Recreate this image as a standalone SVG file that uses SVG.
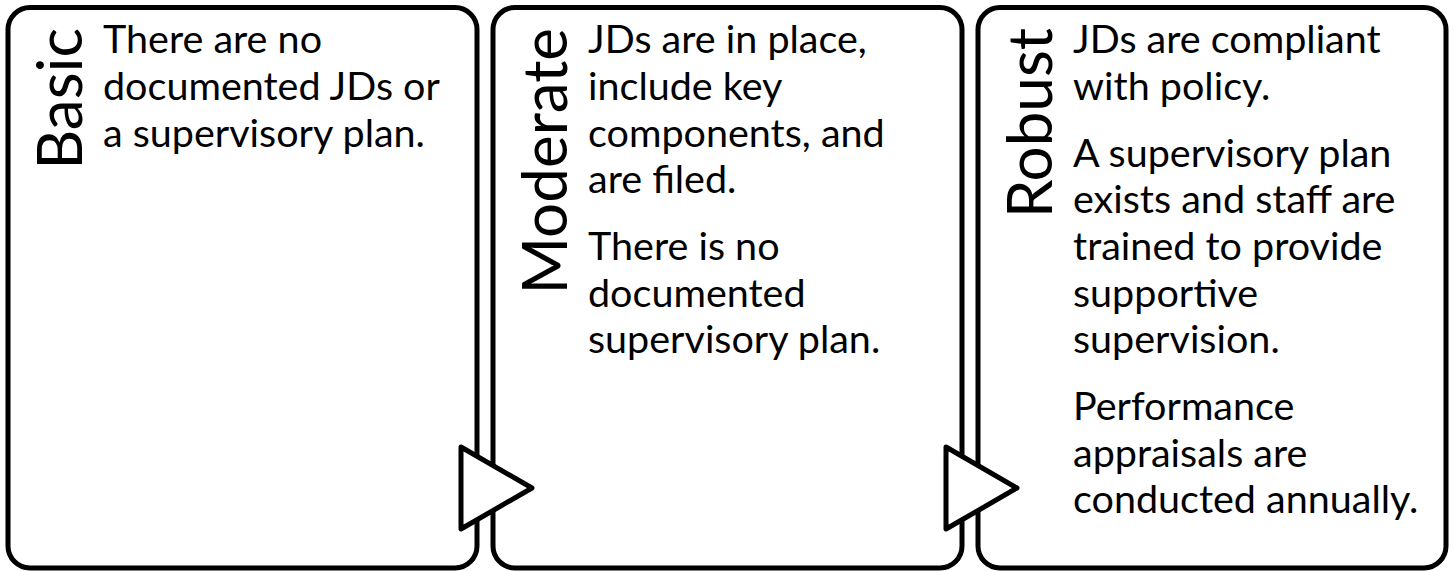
<svg xmlns="http://www.w3.org/2000/svg" width="1454" height="571" viewBox="0 0 1454 571">
<style>
.box{fill:#fff;stroke:#000;stroke-width:5}
.arrow{fill:#fff;stroke:#000;stroke-width:5;stroke-linejoin:round}
.title{font-family:Lato,"Liberation Sans",sans-serif;font-size:62px;fill:#000}
.body{font-family:Lato,"Liberation Sans",sans-serif;font-size:39.5px;fill:#000}
</style>
<rect width="1454" height="571" fill="#fff"/>
<g id="node-basic">
<rect class="box" x="8" y="7.5" width="469" height="560.5" rx="22"/>
<text class="title" transform="translate(82,28) rotate(-90)" text-anchor="end">Basic</text>
<text class="body"><tspan x="103" y="53">There are no</tspan><tspan x="103" y="100">documented JDs or</tspan><tspan x="103" y="147">a supervisory plan.</tspan></text>
</g>
<g id="node-moderate">
<rect class="box" x="493" y="7.5" width="469" height="560.5" rx="22"/>
<text class="title" transform="translate(567,28) rotate(-90)" text-anchor="end">Moderate</text>
<text class="body"><tspan x="588" y="53">JDs are in place,</tspan><tspan x="588" y="100">include key</tspan><tspan x="588" y="147">components, and</tspan><tspan x="588" y="193">are filed.</tspan><tspan x="588" y="260">There is no</tspan><tspan x="588" y="307">documented</tspan><tspan x="588" y="353">supervisory plan.</tspan></text>
</g>
<g id="node-robust">
<rect class="box" x="978" y="7.5" width="468" height="560.5" rx="22"/>
<text class="title" transform="translate(1052,28) rotate(-90)" text-anchor="end">Robust</text>
<text class="body"><tspan x="1073" y="53">JDs are compliant</tspan><tspan x="1073" y="100">with policy.</tspan><tspan x="1073" y="167">A supervisory plan</tspan><tspan x="1073" y="213">exists and staff are</tspan><tspan x="1073" y="260">trained to provide</tspan><tspan x="1073" y="307">supportive</tspan><tspan x="1073" y="353">supervision.</tspan><tspan x="1073" y="420">Performance</tspan><tspan x="1073" y="467">appraisals are</tspan><tspan x="1073" y="513">conducted annually.</tspan></text>
</g>
<g id="connectors">
<polygon class="arrow" points="461,447 532,488 461,529"/>
<polygon class="arrow" points="946,447 1017,488 946,529"/>
</g>
</svg>
